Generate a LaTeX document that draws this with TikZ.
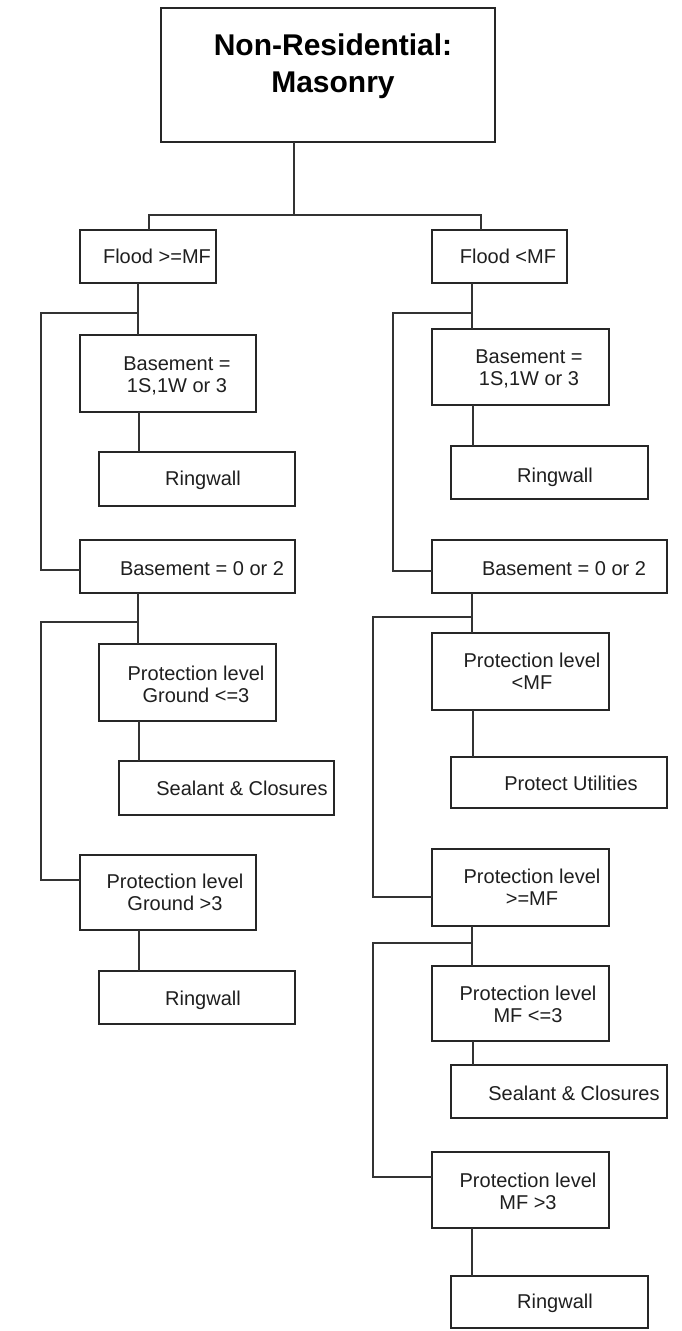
\documentclass[tikz,border=0pt]{standalone}
\usepackage{fontspec}
\setmainfont{Liberation Sans}
\begin{document}
\begin{tikzpicture}[x=1pt,y=-1pt,
  bx/.style={draw=black!85, line width=1.2pt, fill=white, inner sep=0pt, outer sep=0pt},
  tx/.style={inner sep=0pt, outer sep=0pt, align=center, text=black!88,
             font=\fontsize{20}{22.5}\selectfont},
  ttl/.style={inner sep=0pt, outer sep=0pt, align=center, text=black,
              font=\fontsize{30}{37}\selectfont\bfseries},
  ln/.style={draw=black!80, line width=1.2pt}]

\useasboundingbox (0,0) rectangle (681,1331);

% box from corner (x1,y1) to corner (x2,y2)
\newcommand{\mkbox}[5]{\node[bx, minimum width={#4-#2}, minimum height={#5-#3}]
  (#1) at ({(#2+#4)/2},{(#3+#5)/2}) {};}
% one-line label at its baseline
\newcommand{\oneln}[4]{\node[tx, anchor=base] (#1) at (#2,#3) {#4};}
% two-line label, first baseline given
\newcommand{\twoln}[5]{\node[tx, anchor=north] (#1) at (#2,{#3-16}) {\rule{0pt}{16pt}#4\\#5};}

% ---- boxes ----
\mkbox{T}{161}{8}{495}{142}
\mkbox{FL}{80}{230}{216}{283}
\mkbox{FR}{432}{230}{567}{283}
\mkbox{BL1}{80}{335}{256}{412}
\mkbox{RL1}{99}{452}{295}{506}
\mkbox{BL2}{80}{540}{295}{593}
\mkbox{PL1}{99}{644}{276}{721}
\mkbox{SL}{119}{761}{334}{815}
\mkbox{PL2}{80}{855}{256}{930}
\mkbox{RL2}{99}{971}{295}{1024}
\mkbox{BR1}{432}{329}{609}{405}
\mkbox{RR1}{451}{446}{648}{499}
\mkbox{BR2}{432}{540}{667}{593}
\mkbox{PR1}{432}{633}{609}{710}
\mkbox{PU}{451}{757}{667}{808}
\mkbox{PR2}{432}{849}{609}{926}
\mkbox{PR3}{432}{966}{609}{1041}
\mkbox{SR}{451}{1065}{667}{1118}
\mkbox{PR4}{432}{1152}{609}{1228}
\mkbox{RR2}{451}{1276}{648}{1328}

% ---- labels ----
\node[ttl, anchor=north] (Tt) at (333,32) {\rule{0pt}{23pt}Non-Residential:\\Masonry};
\oneln{FLt}{157}{263}{Flood >=MF}
\oneln{FRt}{508}{263}{Flood <MF}
\twoln{BL1t}{177}{370}{Basement =}{1S,1W or 3}
\oneln{RL1t}{203}{485}{Ringwall}
\oneln{BL2t}{202}{575}{Basement = 0 or 2}
\twoln{PL1t}{196}{680}{Protection level}{Ground <=3}
\oneln{SLt}{242}{795}{Sealant \& Closures}
\twoln{PL2t}{175}{888}{Protection level}{Ground >3}
\oneln{RL2t}{203}{1005}{Ringwall}
\twoln{BR1t}{529}{363}{Basement =}{1S,1W or 3}
\oneln{RR1t}{555}{482}{Ringwall}
\oneln{BR2t}{564}{575}{Basement = 0 or 2}
\twoln{PR1t}{532}{667}{Protection level}{<MF}
\oneln{PUt}{571}{790}{Protect Utilities}
\twoln{PR2t}{532}{883}{Protection level}{>=MF}
\twoln{PR3t}{528}{1000}{Protection level}{MF <=3}
\oneln{SRt}{574}{1100}{Sealant \& Closures}
\twoln{PR4t}{528}{1187}{Protection level}{MF >3}
\oneln{RR2t}{555}{1308}{Ringwall}

% ---- junction points ----
\coordinate (j0) at (294,215);
\coordinate (a1) at (149,215);
\coordinate (a2) at (481,215);
\coordinate (jl1) at (138,313);
\coordinate (kl1) at (41,313);
\coordinate (jl2) at (138,622);
\coordinate (kl2) at (41,622);
\coordinate (xl) at (139,0);
\coordinate (jr1) at (472,313);
\coordinate (kr1) at (393,313);
\coordinate (jr2) at (472,617);
\coordinate (kr2) at (373,617);
\coordinate (jr3) at (472,943);
\coordinate (kr3) at (373,943);
\coordinate (xr) at (473,0);

% ---- connectors ----
\draw[ln] (T.south -| j0) -- (j0);
\draw[ln] (FL.north -| a1) -- (a1) -- (a2) -- (FR.north -| a2);

% left branch
\draw[ln] (FL.south -| jl1) -- (BL1.north -| jl1);
\draw[ln] (jl1) -- (kl1) |- ([yshift=-3.5pt]BL2.west);
\draw[ln] (BL1.south -| xl) -- (RL1.north -| xl);
\draw[ln] (BL2.south -| jl2) -- (PL1.north -| jl2);
\draw[ln] (jl2) -- (kl2) |- ([yshift=12.5pt]PL2.west);
\draw[ln] (PL1.south -| xl) -- (SL.north -| xl);
\draw[ln] (PL2.south -| xl) -- (RL2.north -| xl);

% right branch
\draw[ln] (FR.south -| jr1) -- (BR1.north -| jr1);
\draw[ln] (jr1) -- (kr1) |- ([yshift=-4.5pt]BR2.west);
\draw[ln] (BR1.south -| xr) -- (RR1.north -| xr);
\draw[ln] (BR2.south -| jr2) -- (PR1.north -| jr2);
\draw[ln] (jr2) -- (kr2) |- ([yshift=-9.5pt]PR2.west);
\draw[ln] (PR1.south -| xr) -- (PU.north -| xr);
\draw[ln] (PR2.south -| jr3) -- (PR3.north -| jr3);
\draw[ln] (jr3) -- (kr3) |- ([yshift=13pt]PR4.west);
\draw[ln] (PR3.south -| xr) -- (SR.north -| xr);
\draw[ln] (PR4.south -| jr3) -- (RR2.north -| jr3);
\end{tikzpicture}
\end{document}
